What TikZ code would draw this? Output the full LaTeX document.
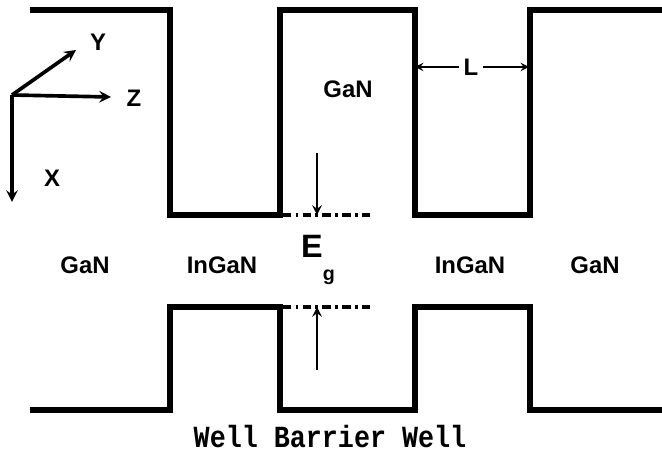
\documentclass[tikz,border=0pt]{standalone}
\usepackage{fontspec}
\setsansfont{Liberation Sans}
\newfontfamily\wellfont{Liberation Mono}

\begin{document}
\begin{tikzpicture}[x=0.025cm,y=-0.025cm,>=stealth,
  band/.style={line width=3.8pt},
  axis/.style={->,line width=2.6pt},
  gap/.style={->,line width=2pt},
  level/.style={line width=2.2pt,dash pattern=on 6pt off 3pt on 2pt off 3pt},
  matlabel/.style={font=\sffamily\bfseries\fontsize{17}{19}\selectfont,inner sep=0pt}]
  \useasboundingbox (0,0) rectangle (662,457);
  % conduction and valence band edges
  \draw[band] (30,10) -- (170,10) -- (170,215) -- (280,215) -- (280,10) -- (415,10)
    -- (415,215) -- (530,215) -- (530,10) -- (662,10);
  \draw[band] (30,410) -- (170,410) -- (170,307) -- (280,307) -- (280,410) -- (415,410)
    -- (415,307) -- (530,307) -- (530,410) -- (662,410);
  % axes
  \coordinate (o) at (12,95);
  \coordinate (ytip) at (76,50);
  \coordinate (ztip) at (111,97);
  \coordinate (xtip) at (12,202);
  \draw[axis] (o) -- (ytip);
  \draw[axis] (o) -- (ztip);
  \draw[axis] (o) -- (xtip);
  \node[matlabel] (ylab) at (98,42) {Y};
  \node[matlabel] (zlab) at (134,98) {Z};
  \node[matlabel] (xlab) at (52,178) {X};
  % materials
  \node[matlabel] (gan1) at (85,265) {GaN};
  \node[matlabel] (ingan1) at (222,265) {InGaN};
  \node[matlabel] (gan2) at (348,89) {GaN};
  \node[matlabel] (ingan2) at (470,265) {InGaN};
  \node[matlabel] (gan3) at (595,265) {GaN};
  % band gap
  \coordinate (cbl) at (283,215);
  \coordinate (cbr) at (370,215);
  \coordinate (vbl) at (283,307);
  \coordinate (vbr) at (370,307);
  \draw[level] (cbl) -- (cbr);
  \draw[level] (vbl) -- (vbr);
  \coordinate (eg1) at (317,153);
  \coordinate (eg2) at (317,215);
  \coordinate (eg3) at (317,370);
  \coordinate (eg4) at (317,307);
  \draw[gap] (eg1) -- (eg2);
  \draw[gap] (eg3) -- (eg4);
  \node[font=\sffamily\bfseries\fontsize{23}{25}\selectfont] (eg) at (318,260)
    {E\raisebox{-1.3ex}{\fontsize{14}{16}\selectfont g}};
  % well width
  \node[matlabel] (llab) at (471,67) {L};
  \coordinate (lw) at (415,67);
  \coordinate (rw) at (529,67);
  \draw[->,line width=1.6pt] (llab.west) ++(-4,0) -- (lw);
  \draw[->,line width=1.6pt] (llab.east) ++(4,0) -- (rw);
  \node[font=\wellfont\bfseries\fontsize{19}{21}\selectfont,yscale=1.15] (wells) at (330,437) {Well Barrier Well};
\end{tikzpicture}
\end{document}
